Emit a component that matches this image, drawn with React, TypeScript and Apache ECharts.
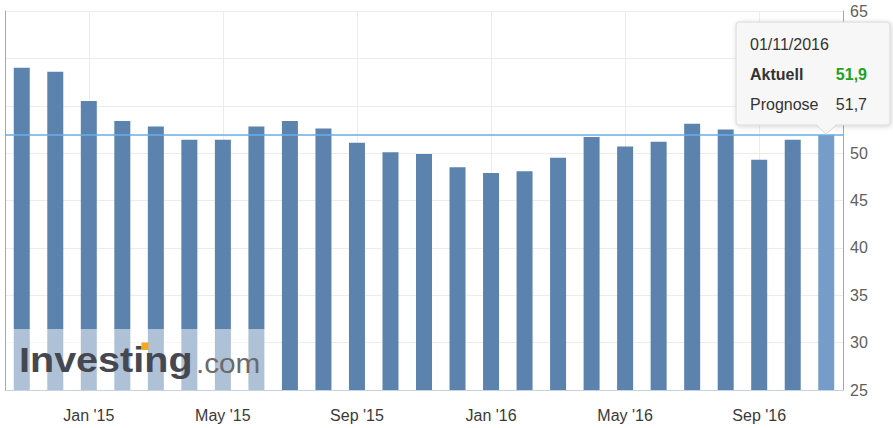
import React, { useEffect, useRef } from "react";
import * as echarts from "echarts";

const categories = [
  "Nov '14", "Dec '14", "Jan '15", "Feb '15", "Mar '15", "Apr '15", "May '15",
  "Jun '15", "Jul '15", "Aug '15", "Sep '15", "Oct '15", "Nov '15", "Dec '15",
  "Jan '16", "Feb '16", "Mar '16", "Apr '16", "May '16", "Jun '16", "Jul '16",
  "Aug '16", "Sep '16", "Oct '16", "Nov '16",
];
const values = [
  59.0, 58.6, 55.5, 53.4, 52.8, 51.4, 51.4, 52.8, 53.4, 52.6, 51.1, 50.1, 49.9,
  48.5, 47.9, 48.1, 49.5, 51.7, 50.7, 51.2, 53.1, 52.5, 49.3, 51.4, 51.9,
];
const currentLevel = 51.9;
const tooltipDate = "01/11/2016";
const tooltipActualLabel = "Aktuell";
const tooltipActual = "51,9";
const tooltipForecastLabel = "Prognose";
const tooltipForecast = "51,7";
const yMin = 25;
const yMax = 65;
const yStep = 5;
// tick labels hidden behind the tooltip box in the reference
const hiddenTickLabels = [55, 60];

const FONT = "'Liberation Sans', Arial, sans-serif";
const BAR = "#5c83ae";
const BAR_HI = "#769dc9";

export default function App() {
  const ref = useRef<HTMLDivElement>(null);
  useEffect(() => {
    if (!ref.current) return;
    const chart = echarts.init(ref.current, null, { renderer: "svg" });
    const labelEvery = (i: number) => i % 4 === 2;
    const last = values.length - 1;
    chart.setOption({
      animation: false,
      grid: { left: 5, right: 50, top: 11, bottom: 38, containLabel: false },
      xAxis: {
        type: "category",
        data: categories,
        boundaryGap: true,
        axisLine: { show: true, lineStyle: { color: "#c6d3e0", width: 1 } },
        axisTick: { show: false, alignWithLabel: true, interval: labelEvery },
        axisLabel: {
          interval: labelEvery,
          color: "#3a3a3a",
          fontSize: 16,
          fontFamily: FONT,
          margin: 17,
        },
        splitLine: {
          show: true,
          interval: labelEvery,
          alignWithLabel: true,
          lineStyle: { color: "#ececec", width: 1 },
        },
      },
      yAxis: [
        {
          type: "value",
          position: "right",
          min: yMin,
          max: yMax,
          interval: yStep,
          axisLine: { show: true, lineStyle: { color: "#a8a8a8" } },
          axisTick: { show: false },
          axisLabel: {
            color: "#606060",
            fontSize: 16,
            fontFamily: FONT,
            margin: 7,
            formatter: (v: number) => (hiddenTickLabels.includes(v) ? "" : String(v)),
          },
          splitLine: { show: true, lineStyle: { color: "#ececec", width: 1 } },
        },
        {
          type: "value",
          position: "left",
          min: yMin,
          max: yMax,
          interval: yStep,
          axisLine: { show: true, lineStyle: { color: "#a8a8a8" } },
          axisTick: { show: false },
          axisLabel: { show: false },
          splitLine: { show: false },
        },
      ],
      series: [
        {
          type: "bar",
          yAxisIndex: 0,
          barWidth: 16,
          data: values.map((v, i) =>
            i === last ? { value: v, itemStyle: { color: BAR_HI } } : v
          ),
          itemStyle: { color: BAR },
          markLine: {
            silent: true,
            symbol: "none",
            label: { show: false },
            lineStyle: { color: "#69aee9", width: 1.5, type: "solid" },
            data: [{ yAxis: currentLevel }],
          },
        },
      ],
    });

    const tip = chart.convertToPixel({ seriesIndex: 0 }, [last, values[last]]) as number[];
    const bottomPx = chart.convertToPixel({ yAxisIndex: 0 }, yMin) as number;
    const leftPx = 5;
    const overlayRight = (chart.convertToPixel({ xAxisIndex: 0 }, categories[7]) as number) + 9;
    const overlayTop = 329;

    const boxX = 736;
    const boxY = 22;
    const boxW = 154;
    const boxH = 103;
    const tx = tip[0];
    const ty = tip[1] - 1;

    chart.setOption({
      graphic: [
        {
          type: "rect",
          z: 100,
          shape: { x: leftPx + 1, y: overlayTop, width: overlayRight - leftPx - 1, height: bottomPx - overlayTop },
          style: { fill: "rgba(255,255,255,0.5)" },
          silent: true,
        },
        {
          type: "text",
          z: 101,
          x: 19,
          y: 360,
          scaleX: 1.13,
          style: {
            text: "Investing",
            fill: "#454850",
            font: `bold 35px ${FONT}`,
            verticalAlign: "middle",
          },
          silent: true,
        },
        {
          type: "text",
          z: 101,
          x: 196,
          y: 363,
          scaleX: 1.1,
          style: {
            text: ".com",
            fill: "#6a6a6a",
            font: `27px ${FONT}`,
            verticalAlign: "middle",
          },
          silent: true,
        },
        {
          type: "rect",
          z: 102,
          shape: { x: 141.5, y: 342.5, width: 7, height: 7.5 },
          style: { fill: "#f5a623" },
          silent: true,
        },
        {
          type: "rect",
          z: 110,
          shape: { x: boxX, y: boxY, width: boxW, height: boxH, r: 3 },
          style: {
            fill: "#f7f7f7",
            stroke: "#d9d9d9",
            lineWidth: 1,
            shadowBlur: 5,
            shadowColor: "rgba(0,0,0,0.18)",
            shadowOffsetX: 1,
            shadowOffsetY: 1,
          },
          silent: true,
        },
        {
          type: "polygon",
          z: 111,
          shape: { points: [[tx - 10, boxY + boxH - 1], [tx + 10, boxY + boxH - 1], [tx, ty]] },
          style: { fill: "#f7f7f7" },
          silent: true,
        },
        {
          type: "polyline",
          z: 112,
          shape: { points: [[tx - 10, boxY + boxH], [tx, ty], [tx + 10, boxY + boxH]] },
          style: { stroke: "#d9d9d9", lineWidth: 1, fill: null },
          silent: true,
        },
        {
          type: "text",
          z: 113,
          x: 750,
          y: 44,
          style: { text: tooltipDate, fill: "#333", font: `16px ${FONT}`, verticalAlign: "middle" },
          silent: true,
        },
        {
          type: "text",
          z: 113,
          x: 750,
          y: 74,
          style: { text: tooltipActualLabel, fill: "#333", font: `bold 16px ${FONT}`, verticalAlign: "middle" },
          silent: true,
        },
        {
          type: "text",
          z: 113,
          x: 867,
          y: 74,
          style: { text: tooltipActual, fill: "#23a11f", font: `bold 16px ${FONT}`, align: "right", verticalAlign: "middle" },
          silent: true,
        },
        {
          type: "text",
          z: 113,
          x: 750,
          y: 104,
          style: { text: tooltipForecastLabel, fill: "#333", font: `16px ${FONT}`, verticalAlign: "middle" },
          silent: true,
        },
        {
          type: "text",
          z: 113,
          x: 867,
          y: 104,
          style: { text: tooltipForecast, fill: "#333", font: `16px ${FONT}`, align: "right", verticalAlign: "middle" },
          silent: true,
        },
      ],
    });

    return () => chart.dispose();
  }, []);

  return <div ref={ref} style={{ width: 893, height: 428, position: "absolute", left: 0, top: 0 }} />;
}
